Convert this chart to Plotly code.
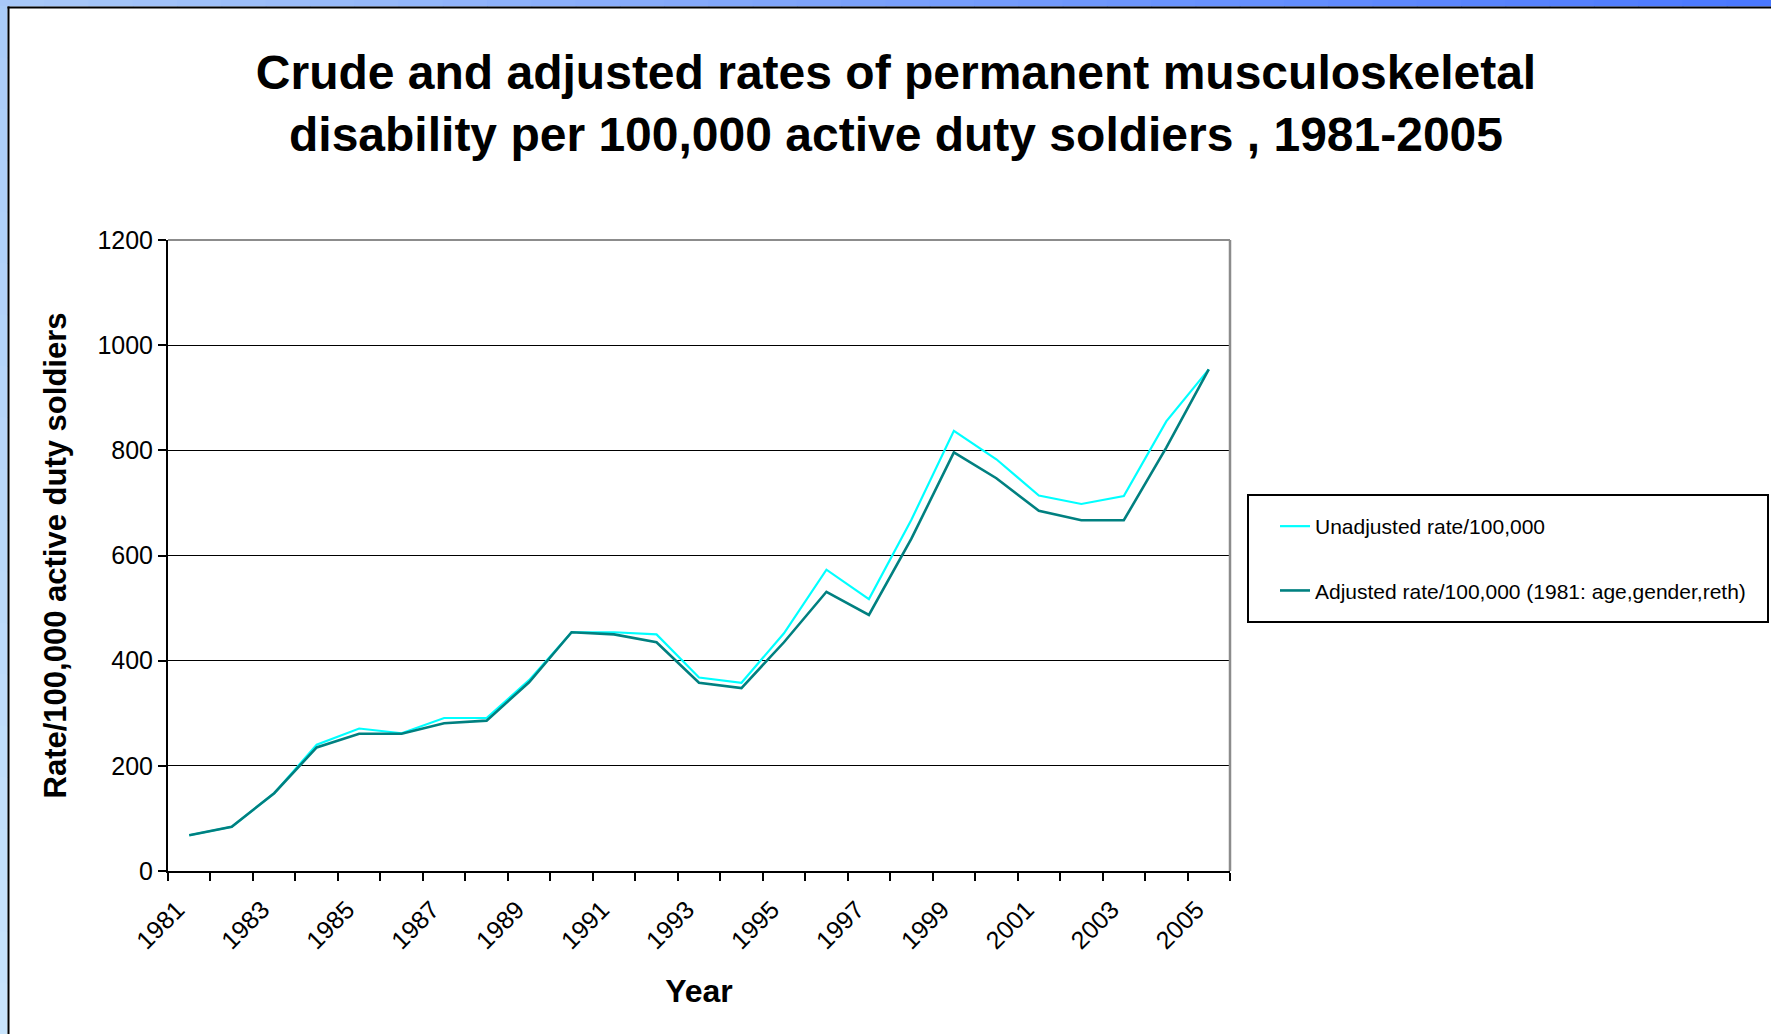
import plotly.graph_objects as go

# ---------------- data ----------------
years = list(range(1981, 2006))
unadjusted = [68, 84, 148, 240, 271, 262, 291, 291, 363, 454, 454, 450, 368, 358, 452,
              573, 517, 668, 837, 783, 714, 698, 713, 855, 954]
adjusted = [68, 84, 148, 235, 261, 261, 281, 286, 359, 454, 450, 435, 358, 348, 435,
            531, 487, 632, 796, 747, 685, 667, 667, 805, 954]
tick_years = years[::2]
tick_labels = [str(y) for y in tick_years]
y_ticks = [0, 200, 400, 600, 800, 1000, 1200]

series_names = ["Unadjusted rate/100,000",
                "Adjusted rate/100,000 (1981: age,gender,reth)"]
series_colors = ["#00FFFF", "#008080"]

title_text = ("<b>Crude and adjusted rates of permanent musculoskeletal<br>"
              "disability per 100,000 active duty soldiers , 1981-2005</b>")

FONT = "Arial, 'Liberation Sans', sans-serif"

# ---------------- layout geometry (pixels) ----------------
W, H = 1771, 1034
L, R, T, B = 168, 1230, 240, 871


def px_x(x):
    return (x - L) / (R - L)


def px_y(y):
    return (B - y) / (B - T)


fig = go.Figure()
fig.add_trace(go.Scatter(x=years, y=unadjusted, mode="lines", name=series_names[0],
                         legendgroup="a",
                         line=dict(color=series_colors[0], width=2.2)))
fig.add_trace(go.Scatter(x=years, y=adjusted, mode="lines", name=series_names[1],
                         legendgroup="b",
                         line=dict(color=series_colors[1], width=2.6)))

boundaries = [y - 0.5 for y in years] + [years[-1] + 0.5]

shapes = []
# slide decoration: blue gradient strips at top and left
N = 40
c0 = (168, 200, 248)
c1 = (74, 120, 255)
for i in range(N):
    t = i / (N - 1)
    col = "rgb(%d,%d,%d)" % tuple(round(a + (b - a) * t) for a, b in zip(c0, c1))
    x0 = i * W / N
    x1 = (i + 1) * W / N + 1
    shapes.append(dict(type="rect", xref="paper", yref="paper",
                       x0=px_x(x0), x1=px_x(x1), y0=px_y(0), y1=px_y(6.5),
                       fillcolor=col, line=dict(width=0), layer="below"))
M = 20
d0 = (170, 204, 248)
d1 = (200, 228, 252)
for i in range(M):
    t = i / (M - 1)
    col = "rgb(%d,%d,%d)" % tuple(round(a + (b - a) * t) for a, b in zip(d0, d1))
    y0 = 6 + i * (H - 6) / M
    y1 = 6 + (i + 1) * (H - 6) / M + 1
    shapes.append(dict(type="rect", xref="paper", yref="paper",
                       x0=px_x(0), x1=px_x(7.5), y0=px_y(y0), y1=px_y(y1),
                       fillcolor=col, line=dict(width=0), layer="below"))
# black panel border (top and left)
shapes.append(dict(type="rect", xref="paper", yref="paper",
                   x0=px_x(7.5), x1=px_x(W), y0=px_y(6.5), y1=px_y(8.5),
                   fillcolor="black", line=dict(width=0), layer="below"))
shapes.append(dict(type="rect", xref="paper", yref="paper",
                   x0=px_x(7.5), x1=px_x(9.5), y0=px_y(6.5), y1=px_y(H),
                   fillcolor="black", line=dict(width=0), layer="below"))
# gray top and right plot-area border
shapes.append(dict(type="line", xref="x domain", yref="y domain", x0=0, x1=1, y0=1, y1=1,
                   line=dict(color="#8c8c8c", width=2), layer="above"))
shapes.append(dict(type="line", xref="x domain", yref="y domain", x0=1, x1=1, y0=0, y1=1,
                   line=dict(color="#8c8c8c", width=2.5), layer="above"))
# legend frame
shapes.append(dict(type="rect", xref="paper", yref="paper",
                   x0=px_x(1248), x1=px_x(1768), y0=px_y(495), y1=px_y(622),
                   fillcolor="white", line=dict(color="black", width=2), layer="below"))

fig.update_layout(
    width=W, height=H,
    margin=dict(l=L, r=W - R, t=T, b=H - B, pad=0),
    paper_bgcolor="white", plot_bgcolor="white",
    font=dict(family=FONT, color="black"),
    title=dict(text=title_text, font=dict(family=FONT, size=48, color="black"),
               x=896 / W, xanchor="center", xref="container",
               y=1 - 89 / H, yanchor="top", yref="container"),
    showlegend=True,
    legend=dict(x=px_x(1275), xanchor="left", y=px_y(558.5), yanchor="middle",
                bgcolor="rgba(0,0,0,0)", borderwidth=0,
                font=dict(family=FONT, size=21, color="black"),
                traceorder="grouped", tracegroupgap=34),
    shapes=shapes,
    xaxis=dict(
        range=[boundaries[0], boundaries[-1]],
        tickmode="array", tickvals=tick_years, ticktext=tick_labels,
        tickangle=-45, ticks="", ticklabelstandoff=12, ticklabelshift=-12,
        tickfont=dict(family=FONT, size=25, color="black"),
        showline=True, linecolor="black", linewidth=2,
        showgrid=False, zeroline=False,
        minor=dict(tickmode="array", tickvals=boundaries, ticks="outside",
                   ticklen=8, tickwidth=2, tickcolor="black", showgrid=False),
        title=dict(text="<b>Year</b>", font=dict(family=FONT, size=32, color="black"),
                   standoff=26),
    ),
    yaxis=dict(
        range=[0, 1200],
        tickmode="array", tickvals=y_ticks,
        ticks="outside", ticklen=8, tickwidth=2, tickcolor="black",
        tickfont=dict(family=FONT, size=25, color="black"),
        showline=True, linecolor="black", linewidth=2,
        showgrid=True, gridcolor="black", gridwidth=1,
        zeroline=False,
        title=dict(text="<b>Rate/100,000 active duty soldiers</b>",
                   font=dict(family=FONT, size=31, color="black"), standoff=22),
    ),
)

fig.write_html("out.html")
